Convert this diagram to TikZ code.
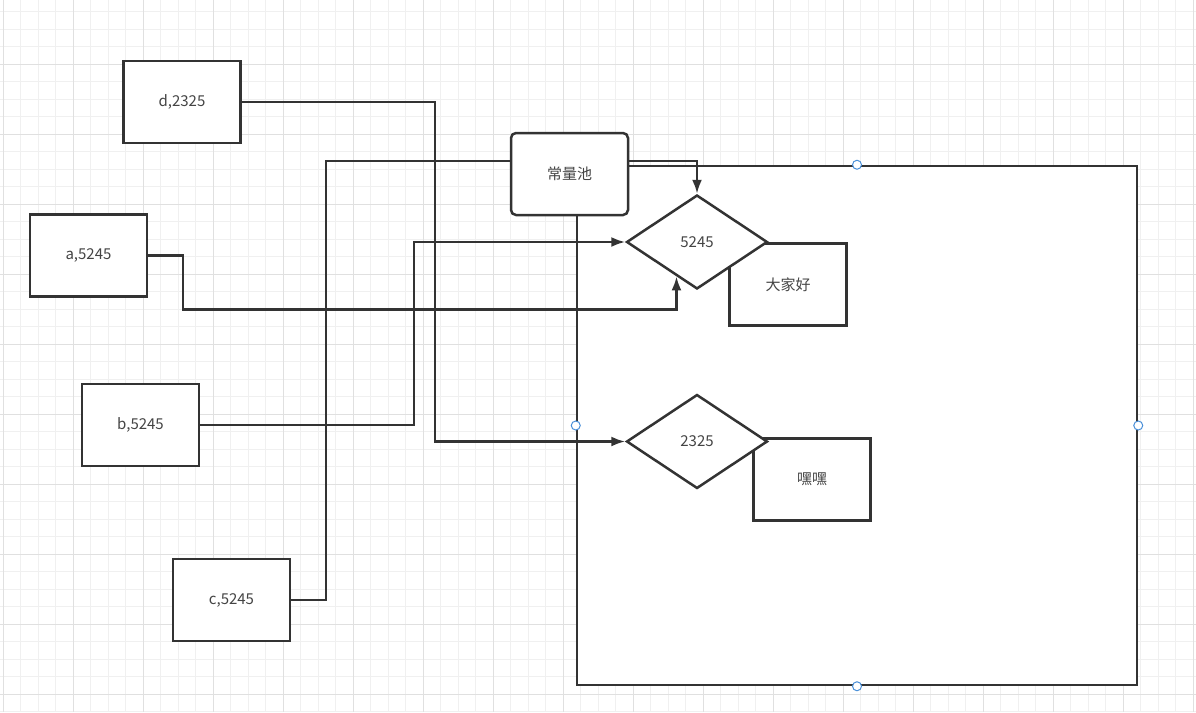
\documentclass[tikz,border=0pt]{standalone}
\usepackage{fontspec}
\setmainfont{Noto Sans CJK SC}
\usetikzlibrary{shapes.geometric,arrows.meta,calc}
\pgfdeclarelayer{bg}
\pgfsetlayers{bg,main}
\definecolor{ink}{HTML}{333333}
\definecolor{txt}{HTML}{444444}
\definecolor{gridminor}{HTML}{F0F0F0}
\definecolor{gridmajor}{HTML}{E0E0E0}
\definecolor{handle}{HTML}{4A90D9}
\tikzset{
  box/.style={draw=ink, line width=2.5pt, fill=white, rectangle, minimum width=117pt, minimum height=82pt, inner sep=0pt, text=txt, font=\fontsize{15}{18}\selectfont},
  poolbox/.style={box, rounded corners=5pt},
  dia/.style={draw=ink, line width=2.5pt, fill=white, diamond, minimum width=141pt, minimum height=94pt, inner sep=0pt, text=txt, font=\fontsize{15}{18}\selectfont},
  conn/.style={draw=ink, line width=2.4pt},
  arr/.style={conn, -{Latex[length=14pt,width=10pt]}},
  handledot/.style={circle, draw=handle, fill=white, line width=1pt, minimum size=9pt, inner sep=0pt}
}
\begin{document}
\begin{tikzpicture}[x=1pt,y=-1pt]
\useasboundingbox (0,0) rectangle (1196,712);
\begin{pgfonlayer}{bg}
  \fill[white] (0,0) rectangle (1196,712);
  \foreach \i in {0,...,68} {
    \draw[gridminor, line width=1pt] ({3.3+17.5*\i},0) -- ({3.3+17.5*\i},712);
  }
  \foreach \i in {0,...,41} {
    \draw[gridminor, line width=1pt] (0,{-6+17.5*\i}) -- (1196,{-6+17.5*\i});
  }
  \foreach \i in {0,...,17} {
    \draw[gridmajor, line width=1pt] ({3.3+70*\i},0) -- ({3.3+70*\i},712);
  }
  \foreach \i in {1,...,10} {
    \draw[gridmajor, line width=1pt] (0,{-6+70*\i}) -- (1196,{-6+70*\i});
  }
  \node[draw=ink, line width=2.5pt, fill=white, rectangle, inner sep=0pt, minimum width=560pt, minimum height=519pt] (frame) at (857,425.5) {};
\end{pgfonlayer}

\node[box] (d) at (182,102) {d,2325};
\node[box] (a) at (88.5,255.5) {a,5245};
\node[box] (b) at (140.5,425) {b,5245};
\node[box] (c) at (231.5,600) {c,5245};
\node[poolbox] (cp) at (569.5,174) {常量池};
\node[box] (h1) at (788,284.5) {大家好};
\node[box] (h2) at (812,479.5) {嘿嘿};
\node[dia] (dia1) at (697,242) {5245};
\node[dia] (dia2) at (697,441.5) {2325};

\coordinate (atip) at ($(dia1.west)!0.714!(dia1.south)$);

\begin{pgfonlayer}{bg}
  \draw[arr] (d.east) -- ++(193,0) |- (dia2.west);
  \draw[arr] (a.east) -- ++(35,0) |- ([yshift=-33pt]atip) -- (atip);
  \draw[arr] (b.east) -- ++(214,0) |- (dia1.west);
  \draw[arr] (c.east) -- ++(35,0) |- ([yshift=33pt]dia1.north) -- (dia1.north);
\end{pgfonlayer}

\node[handledot] (hn) at (frame.north) {};
\node[handledot] (hs) at (frame.south) {};
\node[handledot] (hw) at (frame.west) {};
\node[handledot] (he) at (frame.east) {};
\end{tikzpicture}
\end{document}
